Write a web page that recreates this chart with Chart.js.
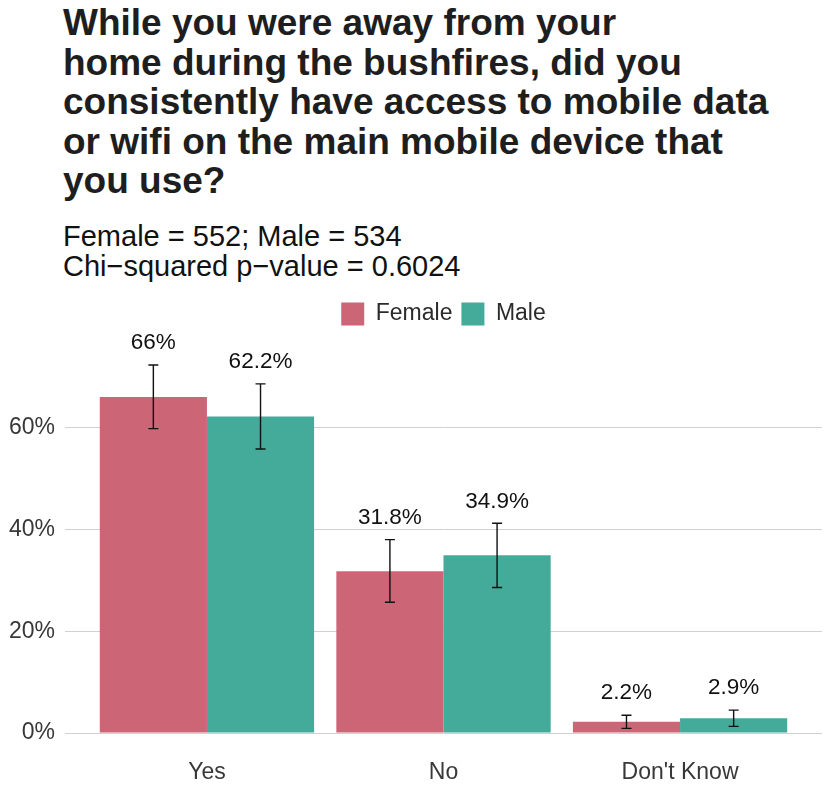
<!DOCTYPE html>
<html>
<head>
<meta charset="utf-8">
<script src="https://cdn.jsdelivr.net/npm/chart.js@4"></script>
<style>
body{margin:0;background:#fff;width:830px;height:805px;position:relative;overflow:hidden;font-family:"Liberation Sans",Arial,sans-serif}
#title{position:absolute;left:63px;top:3px;margin:0;font-size:37px;line-height:39.6px;font-weight:bold;color:#1e1e1e}
#sub{position:absolute;left:63px;top:221px;font-size:29px;line-height:30px;color:#111}
#wrap{position:absolute;left:0;top:280px;width:830px;height:525px}
</style>
</head>
<body>
<h1 id="title">While you were away from your<br>home during the bushfires, did you<br>consistently have access to mobile data<br>or wifi on the main mobile device that<br>you use?</h1>
<div id="sub">Female = 552; Male = 534<br>Chi−squared p−value = 0.6024</div>
<div id="wrap"><canvas id="chart"></canvas></div>
<script>
// answers and percentages
const categories = ['Yes', 'No', "Don't Know"];
const female = [66, 31.8, 2.2];
const male = [62.2, 34.9, 2.9];
const femaleLow = [59.8, 25.7, 0.9];
const femaleHigh = [72.3, 38.0, 3.5];
const maleLow = [55.8, 28.6, 1.3];
const maleHigh = [68.6, 41.2, 4.5];
const yTicks = [0, 20, 40, 60];

const FONT = "'Liberation Sans', Arial, sans-serif";

// error bars plus the value label above each one
const errorBars = {
    id: 'errorBars',
    afterDatasetsDraw(chart) {
        const ctx = chart.ctx;
        const y = chart.scales.y;
        ctx.save();
        chart.data.datasets.forEach((ds, i) => {
            chart.getDatasetMeta(i).data.forEach((bar, j) => {
                const top = y.getPixelForValue(ds.high[j]);
                const bot = y.getPixelForValue(ds.low[j]);
                ctx.strokeStyle = '#111';
                ctx.lineWidth = 1.4;
                ctx.beginPath();
                ctx.moveTo(bar.x, top); ctx.lineTo(bar.x, bot);
                ctx.moveTo(bar.x - 5, top); ctx.lineTo(bar.x + 5, top);
                ctx.moveTo(bar.x - 5, bot); ctx.lineTo(bar.x + 5, bot);
                ctx.stroke();
                ctx.fillStyle = '#111';
                ctx.font = '22.5px ' + FONT;
                ctx.textAlign = 'center';
                ctx.textBaseline = 'middle';
                ctx.fillText(ds.data[j].y + '%', bar.x, top - 22);
            });
        });
        ctx.restore();
    }
};

const ctx = document.getElementById('chart').getContext('2d');
const chart = new Chart(ctx, {
    type: 'bar',
    data: {
        datasets: [{
            label: 'Female',
            data: female.map((v, i) => ({x: i, y: v})),
            low: femaleLow,
            high: femaleHigh,
            backgroundColor: '#cc6677',
            borderColor: '#cc6677',
            borderWidth: 0
        }, {
            label: 'Male',
            data: male.map((v, i) => ({x: i, y: v})),
            low: maleLow,
            high: maleHigh,
            backgroundColor: '#44aa99',
            borderColor: '#44aa99',
            borderWidth: 0
        }]
    },
    options: {
        responsive: true,
        maintainAspectRatio: false,
        animation: false,
        categoryPercentage: 0.906,
        barPercentage: 1,
        layout: {padding: {top: 13.5, left: 9, right: 8, bottom: 18}},
        plugins: {
            tooltip: {enabled: false},
            legend: {
                position: 'top',
                fullSize: false,
                labels: {
                    boxWidth: 23,
                    boxHeight: 23,
                    padding: 9,
                    color: '#2b2b2b',
                    font: {family: FONT, size: 23}
                }
            }
        },
        scales: {
            x: {
                type: 'linear',
                offset: false,
                min: -0.6,
                max: 2.6,
                afterBuildTicks: s => { s.ticks = categories.map((c, i) => ({value: i})); },
                afterFit: s => { s.height = 54; },
                grid: {display: false, drawTicks: false, offset: false},
                border: {display: false},
                ticks: {
                    autoSkip: false,
                    padding: 26,
                    color: '#383838',
                    font: {family: FONT, size: 23},
                    callback: v => categories[v]
                }
            },
            y: {
                min: 0,
                max: 78.1,
                afterBuildTicks: s => { s.ticks = yTicks.map(v => ({value: v})); },
                afterFit: s => { s.width = 56; },
                grid: {color: '#d0d0d0', lineWidth: 1, drawTicks: false},
                border: {display: false},
                ticks: {
                    padding: 10,
                    color: '#383838',
                    font: {family: FONT, size: 23},
                    callback: v => v + '%'
                }
            }
        }
    },
    plugins: [errorBars]
});
</script>
</body>
</html>
